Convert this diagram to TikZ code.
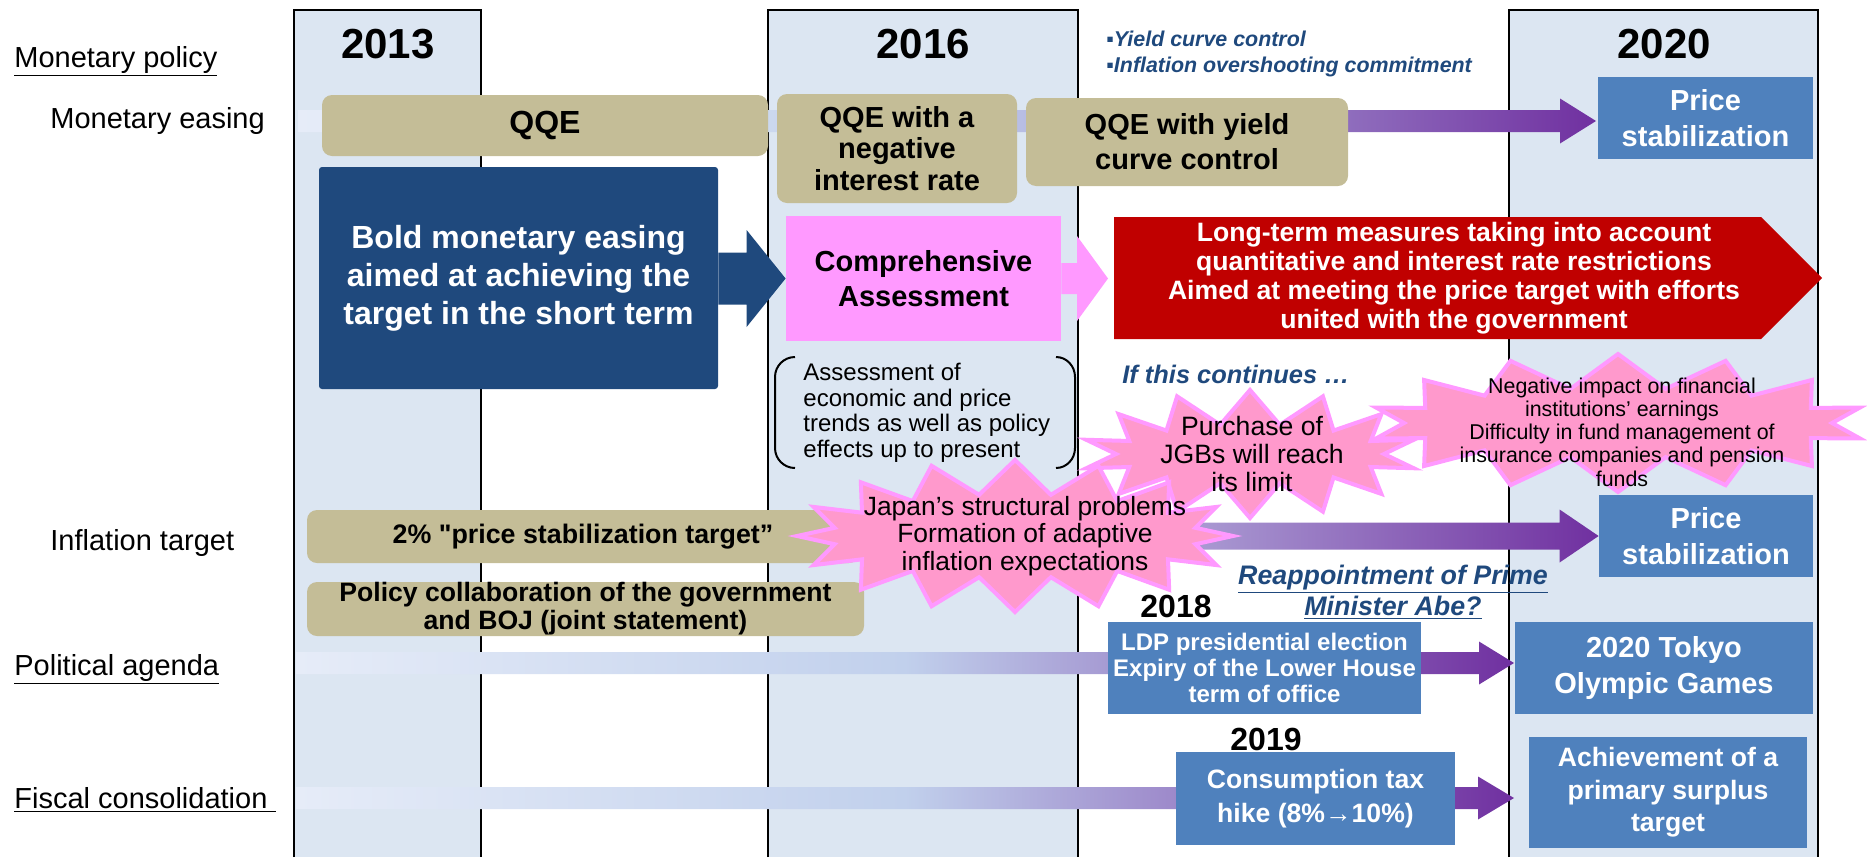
\documentclass[tikz,border=0pt]{standalone}
\usepackage{fontspec}
\setmainfont{Liberation Sans}
\usetikzlibrary{calc,shapes.symbols}
\definecolor{ColumnClr}{RGB}{220,230,242}
\definecolor{TanClr}{RGB}{196,189,151}
\definecolor{NavyClr}{RGB}{31,73,125}
\definecolor{BoxClr}{RGB}{79,129,189}
\definecolor{PinkClr}{RGB}{255,153,255}
\definecolor{RedClr}{RGB}{192,0,0}
\definecolor{BurstClr}{RGB}{255,153,204}
\definecolor{PurpleClr}{RGB}{112,48,160}
\definecolor{BandLeftClr}{RGB}{230,236,248}
\definecolor{BandMidClr}{RGB}{193,208,236}
\definecolor{InflLeftClr}{RGB}{176,166,216}
\newcommand\fsz[2]{\fontsize{#1}{#2}\selectfont}
% block arrow from a tail point to a tip on the same level
\newcommand\blockarrow[6][]{%
  \path[#1] ($(#2)+(0,-#4)$) -- ($(#3)+(-#6,-#4)$) -- ($(#3)+(-#6,-#5)$) -- (#3)
    -- ($(#3)+(-#6,#5)$) -- ($(#3)+(-#6,#4)$) -- ($(#2)+(0,#4)$) -- cycle;}

\begin{document}
\begin{tikzpicture}[x=0.5pt,y=-0.5pt]
\tikzset{
  yearcolumn/.style={fill=ColumnClr,draw=black,line width=1pt},
  yearlabel/.style={anchor=base,inner sep=0pt,font=\bfseries\fsz{21}{25}},
  rowlabel/.style={anchor=base west,inner sep=0pt,font=\fsz{14.5}{17}},
  tanbox/.style={fill=TanClr,rounded corners=5pt,inner sep=0pt,align=center,font=\bfseries\fsz{14.5}{16}},
  bluebox/.style={fill=BoxClr,text=white,inner sep=0pt,align=center,font=\bfseries\fsz{14.5}{18}},
  band/.style={left color=BandLeftClr,right color=PurpleClr,middle color=BandMidClr},
  burst/.style={starburst,random starburst=0,starburst points=14,starburst point height=17pt,fill=BurstClr,draw=PinkClr,line width=2pt,inner sep=0pt},
  bursttext/.style={inner sep=0pt,align=center},
  notetext/.style={text=NavyClr,inner sep=0pt,font=\bfseries\itshape\fsz{12.7}{15}}
}
\useasboundingbox (0,0) rectangle (1867,857);

% columns of the key years
\path[yearcolumn] (294,857) -- (294,10) -- (481,10) -- (481,857);
\path[yearcolumn] (768,857) -- (768,10) -- (1078,10) -- (1078,857);
\path[yearcolumn] (1509,857) -- (1509,10) -- (1818,10) -- (1818,857);

\node[yearlabel] (y2013) at (388,58) {2013};
\node[yearlabel] (y2016) at (923,58) {2016};
\node[yearlabel] (y2020) at (1664,58) {2020};

\node[rowlabel] (policy) at (14,67) {\underline{Monetary policy}};
\node[rowlabel] (easing) at (50,128) {Monetary easing};
\node[rowlabel] (inflation) at (50,550) {Inflation target};
\node[rowlabel] (political) at (14,675) {\underline{Political agenda}};
\node[rowlabel] (fiscal) at (14,808) {\underline{Fiscal consolidation\ }};

% bands running up to 2020
\coordinate (easeTail) at (298,121);
\coordinate (easeTip) at (1596,121);
\coordinate (polTail) at (296,663);
\coordinate (polTip) at (1514,663);
\coordinate (fisTail) at (296,798);
\coordinate (fisTip) at (1514,798);
\blockarrow[band]{easeTail}{easeTip}{11}{22.5}{36}
\blockarrow[band]{polTail}{polTip}{11}{21.5}{35}
\blockarrow[band]{fisTail}{fisTip}{11}{21.5}{36}

\node[tanbox,minimum width=223pt,minimum height=30.5pt,font=\bfseries\fsz{16}{18}] (qqe) at (545,125.5) {QQE};
\node[tanbox,minimum width=120pt,minimum height=54.5pt,font=\bfseries\fsz{14.5}{15.75}] (qqeneg) at (897,148.5) {QQE with a\\negative\\interest rate};
\node[tanbox,minimum width=161pt,minimum height=44pt,font=\bfseries\fsz{14.5}{17.5}] (qqeycc) at (1187,142) {QQE with yield\\curve control};
\node[bluebox,minimum width=107.5pt,minimum height=41pt] (price) at (1705.5,118) {Price\\stabilization};
\node[notetext,anchor=west,align=left,font=\bfseries\itshape\fsz{10.7}{13}] (ycc) at (1106,54) {▪Yield curve control\\▪Inflation overshooting commitment};

\node[fill=NavyClr,text=white,rounded corners=1.5pt,inner sep=0pt,align=center,minimum width=199.5pt,minimum height=111pt,font=\bfseries\fsz{16}{19}] (bold) at (518.5,278) {Bold monetary easing\\aimed at achieving the\\target in the short term};
\node[fill=PinkClr,inner sep=0pt,align=center,minimum width=137.5pt,minimum height=62.5pt,font=\bfseries\fsz{14.5}{17.5}] (comp) at (923.5,278.5) {Comprehensive\\Assessment};
\coordinate (boldTail) at (bold.east |- comp.west);
\blockarrow[fill=NavyClr]{boldTail}{comp.west}{26}{48.5}{39}
\coordinate (compTip) at (1108,278.5);
\blockarrow[fill=PinkClr]{comp.east}{compTip}{15.5}{42.5}{31}

\fill[RedClr] (1114,217) -- (1761,217) -- (1822,278) -- (1761,339) -- (1114,339) -- cycle;
\node[text=white,inner sep=0pt,align=center,font=\bfseries\fsz{13.3}{14.5}] (longterm) at (1454,278) {Long-term measures taking into account\\quantitative and interest rate restrictions\\Aimed at meeting the price target with efforts\\united with the government};

\node[anchor=west,inner sep=0pt,align=left,font=\fsz{12}{12.75}] (review) at (803,413) {Assessment of\\economic and price\\trends as well as policy\\effects up to present};
\draw[line width=1pt] (795,357) to[out=180,in=90] (775,377) -- (775,448) to[out=-90,in=180] (795,468);
\draw[line width=1pt] (1056,357) to[out=0,in=90] (1075,377) -- (1075,448) to[out=-90,in=0] (1056,468);

\node[notetext,anchor=west] (goingon) at (1122,374) {If this continues …};

\node[tanbox,minimum width=276pt,minimum height=26.5pt,font=\bfseries\fsz{13.4}{15}] (target) at (583,536.5) {2\% \textquotedbl price stabilization target”};
\node[tanbox,minimum width=278.5pt,minimum height=27pt,font=\bfseries\fsz{13.3}{14}] (collab) at (585.5,609) {Policy collaboration of the government\\and BOJ (joint statement)};
\node[bluebox,minimum width=107pt,minimum height=41pt] (price2) at (1706,536) {Price\\stabilization};
\coordinate (inflTail) at (1150,536);
\blockarrow[left color=InflLeftClr,right color=PurpleClr]{inflTail}{price2.west}{13.5}{26.5}{39}

% the bursts of "if this continues"
\node[burst,minimum width=168pt,minimum height=64pt] (jgbBurst) at (1250,454) {};
\node[bursttext,font=\fsz{13.3}{14}] (jgb) at (1252,454) {Purchase of\\JGBs will reach\\its limit};
\node[burst,minimum width=248pt,minimum height=69pt] (bankBurst) at (1618,423) {};
\node[bursttext,font=\fsz{10.7}{11.6}] (bank) at (1622,432) {Negative impact on financial\\institutions’ earnings\\Difficulty in fund management of\\insurance companies and pension\\funds};
\node[burst,starburst points=16,minimum width=218pt,minimum height=76pt] (japanBurst) at (1015,536) {};
\node[bursttext,font=\fsz{13.2}{13.75}] (japan) at (1025,536) {Japan’s structural problems\\Formation of adaptive\\inflation expectations};

\node[notetext,align=center,font=\bfseries\itshape\fsz{13.4}{15.5}] (abe) at (1393,592) {\underline{Reappointment of Prime}\\\underline{Minister Abe?}};

\node[yearlabel,font=\bfseries\fsz{16}{18}] (y2018) at (1176,617) {2018};
\node[bluebox,minimum width=156.5pt,minimum height=46pt,font=\bfseries\fsz{12}{13}] (ldp) at (1264.5,668) {LDP presidential election\\Expiry of the Lower House\\term of office};
\node[bluebox,minimum width=149pt,minimum height=46pt] (tokyo) at (1664,668) {2020 Tokyo\\Olympic Games};

\node[yearlabel,font=\bfseries\fsz{16}{18}] (y2019) at (1266,750) {2019};
\node[bluebox,minimum width=139.5pt,minimum height=46.5pt,font=\bfseries\fsz{13.3}{17}] (tax) at (1315.5,798.5) {Consumption tax\\hike (8\%→10\%)};
\node[bluebox,minimum width=139pt,minimum height=55.5pt,font=\bfseries\fsz{13.3}{16.25}] (surplus) at (1668,792.5) {Achievement of a\\primary surplus\\target};

\end{tikzpicture}
\end{document}
